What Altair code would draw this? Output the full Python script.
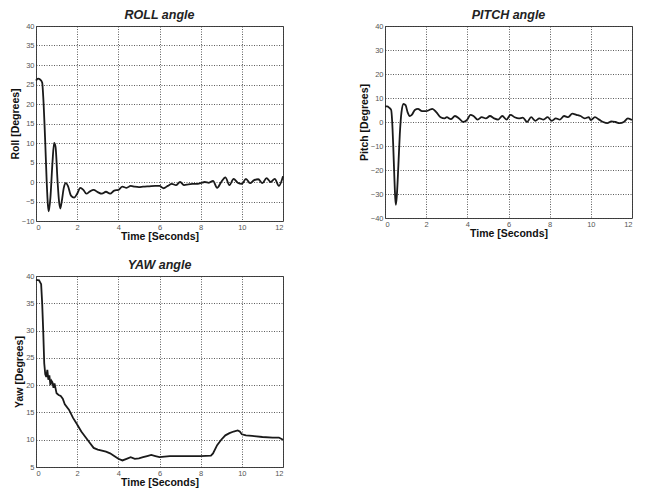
import altair as alt
import pandas as pd

# ---- data ----
roll_t = [0, 0.1, 0.2, 0.3, 0.35, 0.45, 0.52, 0.58, 0.62, 0.7, 0.8, 0.88, 0.95, 1.05, 1.12, 1.18, 1.25,
          1.35, 1.45, 1.55, 1.7, 1.85, 2.0, 2.15, 2.3, 2.45, 2.6, 2.8, 3.0, 3.2, 3.4, 3.6, 3.8, 4.0,
          4.2, 4.4, 4.6, 4.8, 5.0, 5.2, 5.5, 5.8, 6.0, 6.2, 6.4, 6.6, 6.8, 7.0, 7.2, 7.4, 7.6, 7.8,
          8.0, 8.2, 8.4, 8.6, 8.8, 9.0, 9.2, 9.4, 9.6, 9.8, 10.0, 10.2, 10.4, 10.6, 10.8, 11.0, 11.2,
          11.4, 11.6, 11.8, 12.0]
roll_v = [26, 26.5, 26.3, 25.5, 22, 10, 0, -6, -7.5, -4, 5, 10, 9, 0, -5, -6.8, -5,
          -1.5, -0.3, -1, -3.5, -4, -3, -1.5, -2, -3, -2.5, -2, -2.6, -3, -2.5, -3, -2.2, -2,
          -1.2, -1.5, -1, -1.2, -1.3, -1.2, -1.1, -1, -1, -1.6, -1, -0.5, -0.8, 0, -0.8, -0.6, -0.5, -0.5,
          -0.3, 0, -0.2, 0.3, -1.5, 0, 1.2, -0.8, 0.8, -0.2, -0.5, 0.8, -0.3, 0.5, 0.7, -0.3, 1,
          0, 0.8, -1, 1.5]

pitch_t = [0, 0.1, 0.2, 0.3, 0.35, 0.4, 0.45, 0.5, 0.53, 0.58, 0.65, 0.72, 0.8, 0.9, 1.0, 1.1, 1.2,
           1.3, 1.45, 1.6, 1.8, 2.0, 2.15, 2.3, 2.5, 2.7, 2.9, 3.0, 3.2, 3.4, 3.6, 3.8, 4.0, 4.15,
           4.3, 4.5, 4.7, 4.9, 5.1, 5.3, 5.5, 5.7, 5.9, 6.1, 6.3, 6.5, 6.7, 6.9, 7.1, 7.3, 7.5, 7.7,
           7.9, 8.1, 8.3, 8.5, 8.7, 8.9, 9.1, 9.3, 9.5, 9.7, 9.9, 10.0, 10.2, 10.4, 10.6, 10.8, 11.0,
           11.2, 11.4, 11.6, 11.8, 12.0]
pitch_v = [6.5, 6.5, 6, 5, 0, -10, -22, -32, -34.5, -30, -18, -5, 4, 7.5, 7, 4, 2.5,
           3, 5, 5.5, 4.5, 4.5, 5, 5.5, 4, 2, 1.5, 2, 1.2, 2.5, 1.5, 0, 1, 3,
           2.5, 1, 2, 1.5, 2.5, 1.5, 1, 2.5, 1, 3, 2, 1.5, 1.8, 0, 2, 0.5, 1.5, 1,
           2, 0.5, 1.5, 1, 2.5, 2, 3.5, 3, 2.5, 1.5, 2, 0.8, 2, 1, 0, -0.5, 0.3,
           0, -0.5, 0, 1.5, 0.8]

yaw_t = [0, 0.15, 0.25, 0.3, 0.35, 0.4, 0.45, 0.5, 0.55, 0.6, 0.65, 0.7, 0.75, 0.8, 0.85, 0.9, 1.0,
         1.1, 1.2, 1.3, 1.4, 1.6, 1.8, 2.0, 2.2, 2.4, 2.6, 2.8, 3.0, 3.2, 3.4, 3.6, 3.8, 4.0, 4.2,
         4.4, 4.6, 4.8, 5.0, 5.2, 5.4, 5.6, 5.8, 6.0, 6.5, 7.0, 7.5, 8.0, 8.5, 8.6, 8.8, 9.0, 9.2,
         9.4, 9.6, 9.8, 9.9, 10.0, 10.2, 10.5, 11.0, 11.5, 11.8, 12.0]
yaw_v = [39.3, 39.2, 38.5, 35, 30, 24, 22, 21.5, 22.8, 21, 21.8, 20, 20.8, 20.5, 19.5, 20.3, 18.5,
         18.2, 18, 17.5, 16.5, 15.5, 14, 12.8, 11.5, 10.5, 9.5, 8.5, 8.2, 8, 7.8, 7.5, 7, 6.5, 6.2,
         6.5, 6.8, 6.5, 6.6, 6.8, 7, 7.2, 7, 6.8, 7, 7, 7, 7, 7.1, 7.5, 9, 10, 10.8,
         11.2, 11.5, 11.7, 11.5, 11, 10.8, 10.7, 10.5, 10.4, 10.4, 10]

x_ticks = [0, 2, 4, 6, 8, 10, 12]

FONT = "Liberation Sans"


def panel(t, v, title, ytitle, ydom, ystep, h, interp):
    df = pd.DataFrame({"t": t, "v": v})
    yvals = list(range(ydom[0], ydom[1] + 1, ystep))
    return alt.Chart(df, title=alt.TitleParams(
        title, font=FONT, fontSize=12.5, fontWeight="bold", fontStyle="italic",
        color="#222", offset=1)).mark_line(
        color="#1a1a1a", strokeWidth=1.8, interpolate=interp
    ).encode(
        x=alt.X("t:Q", scale=alt.Scale(domain=[0, 12], nice=False, zero=False),
                axis=alt.Axis(values=x_ticks, title="Time [Seconds]")),
        y=alt.Y("v:Q", scale=alt.Scale(domain=ydom, nice=False, zero=False),
                axis=alt.Axis(values=yvals, title=ytitle)),
    ).properties(width=247, height=h)


roll = panel(roll_t, roll_v, "ROLL angle", "Roll [Degrees]", [-10, 40], 5, 195, "monotone")
pitch = panel(pitch_t, pitch_v, "PITCH angle", "Pitch [Degrees]", [-40, 40], 10, 192, "monotone")
yaw = panel(yaw_t, yaw_v, "YAW angle", "Yaw [Degrees]", [5, 40], 5, 191, "linear")

chart = alt.vconcat(
    alt.hconcat(roll, pitch, spacing=70),
    yaw,
    spacing=15,
).properties(
    padding={"left": 1, "top": 0, "right": 0, "bottom": 0},
    background="white",
).configure_view(
    stroke="#444", strokeWidth=1
).configure_axis(
    labelFont=FONT, labelFontSize=7.5, labelColor="#555", labelPadding=2,
    titleFont=FONT, titleFontSize=10.5, titleFontWeight="bold", titleColor="#111",
    titlePadding=1, ticks=False, domain=False,
    gridColor="#333", gridOpacity=0.8, gridDash=[1, 1.5], gridWidth=1,
)

chart.save("out.html", embed_options={"renderer": "svg", "actions": False})
